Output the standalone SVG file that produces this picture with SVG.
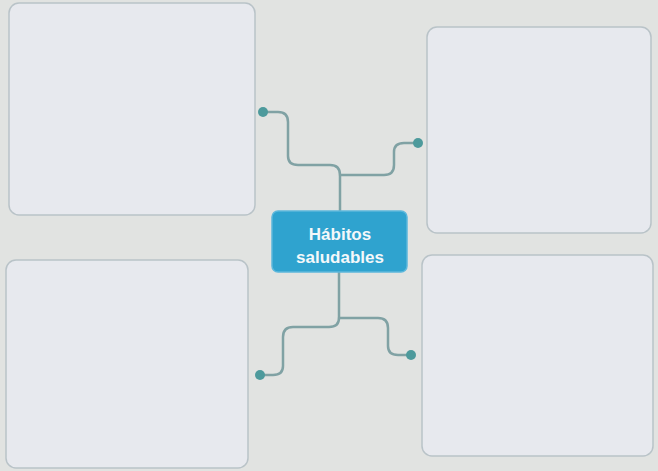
<svg xmlns="http://www.w3.org/2000/svg" width="658" height="471" viewBox="0 0 658 471">
<style>
.box{fill:#e7e9ee;stroke:#b9c3c8;stroke-width:1.5}
.ln{fill:none;stroke:#80a2a4;stroke-width:2.5;stroke-linecap:round}
.dot{fill:#4d9a9c}
.t{font-family:"Liberation Sans",Arial,sans-serif;font-weight:bold;font-size:17px;fill:#f4f8fa;text-anchor:middle}
</style>
<rect width="658" height="471" fill="#e1e3e1"/>
<g id="box-tl"><rect class="box" x="9" y="3" width="246" height="212" rx="10"/></g>
<g id="box-tr"><rect class="box" x="427" y="27" width="224" height="206" rx="10"/></g>
<g id="box-bl"><rect class="box" x="6" y="260" width="242" height="208" rx="10"/></g>
<g id="box-br"><rect class="box" x="422" y="255" width="231" height="201" rx="10"/></g>
<g id="connectors">
<path class="ln" d="M263,112 H278 Q288,112 288,122 V156 Q288,165 298,165 H330 Q340,165 340,175 V211"/>
<path class="ln" d="M340,175 H384 Q394,175 394,165 V152 Q394,143 404,143 H418"/>
<path class="ln" d="M339,272 V318 Q339,327 329,327 H293 Q283,327 283,337 V366 Q283,375 273,375 H260"/>
<path class="ln" d="M339,318 H378 Q388,318 388,328 V346 Q388,355 398,355 H411"/>
<circle class="dot" cx="263" cy="112" r="5"/>
<circle class="dot" cx="418" cy="143" r="5"/>
<circle class="dot" cx="260" cy="375" r="5"/>
<circle class="dot" cx="411" cy="355" r="5"/>
</g>
<g id="center">
<rect x="272" y="211" width="135" height="61" rx="6" fill="#2fa3cf" stroke="#5cb8dc" stroke-width="1.5"/>
<text class="t" x="340" y="240">Hábitos</text>
<text class="t" x="340" y="263">saludables</text>
</g>
</svg>
